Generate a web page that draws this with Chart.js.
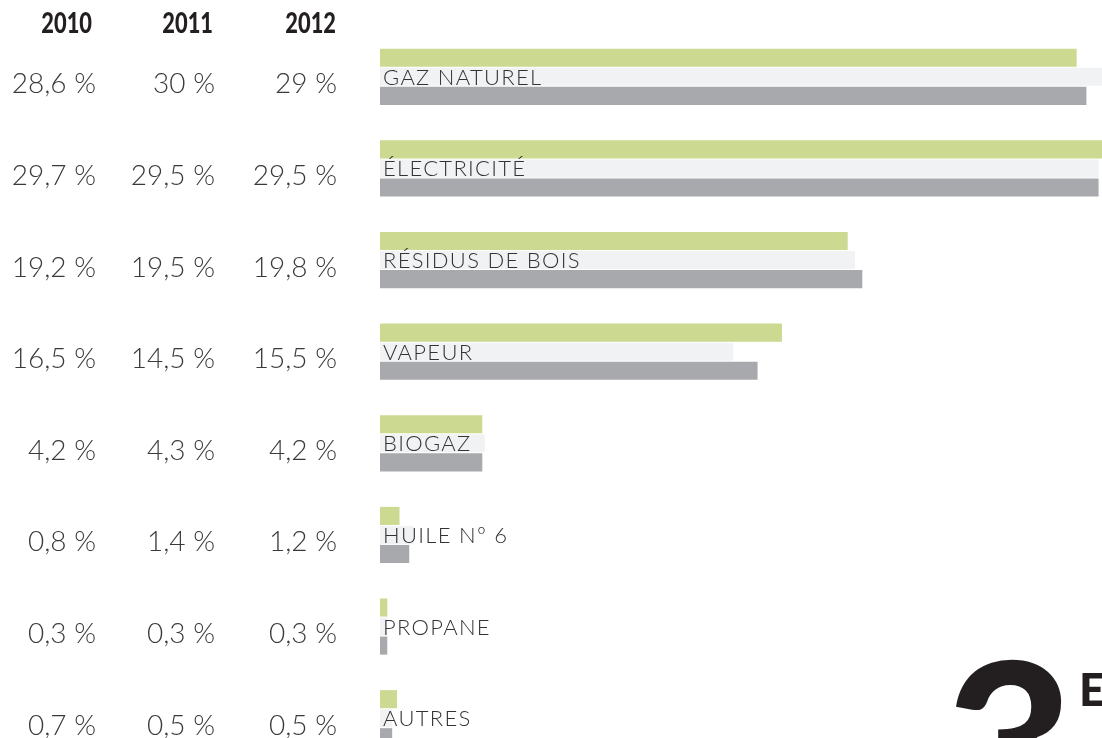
<!DOCTYPE html>
<html lang="fr">
<head>
    <meta charset="UTF-8">
    <title>Sources d'énergie 2010-2012</title>
    <script src="https://cdn.jsdelivr.net/npm/chart.js"></script>
    <style>
        html, body {
            margin: 0;
            padding: 0;
            background: #fff;
            overflow: hidden;
        }
        #energyChart {
            display: block;
        }
    </style>
</head>
<body>

    <canvas id="energyChart" width="1102" height="764"></canvas>

    <script>
        // --- Data ---
        const categories = ['GAZ NATUREL', 'ÉLECTRICITÉ', 'RÉSIDUS DE BOIS', 'VAPEUR', 'BIOGAZ', 'HUILE Nº 6', 'PROPANE', 'AUTRES'];
        const years = ['2010', '2011', '2012'];

        const values2010 = [28.6, 29.7, 19.2, 16.5, 4.2, 0.8, 0.3, 0.7];
        const values2011 = [30, 29.5, 19.5, 14.5, 4.3, 1.4, 0.3, 0.5];
        const values2012 = [29, 29.5, 19.8, 15.5, 4.2, 1.2, 0.3, 0.5];

        const yearColors = ['#cbd991', '#f1f2f4', '#a8a9ac'];

        const thinFont = '"Lato", "Open Sans", sans-serif';

        // french number format: 28,6 %
        const fmt = v => String(v).replace('.', ',') + ' %';

        // --- Plugin: the left table, the labels on the bars and the big "3E" ---
        const overlayPlugin = {
            id: 'overlay',
            afterDatasetsDraw(chart) {
                const ctx = chart.ctx;
                const yScale = chart.scales.y;
                const series = [values2010, values2011, values2012];
                const colRight = [96, 215, 337];
                const headRight = [92, 213, 336];

                ctx.save();

                // year headers (condensed by squeezing the bold face)
                ctx.fillStyle = '#231f20';
                ctx.font = '900 28px "Lato", "DejaVu Sans", sans-serif';
                ctx.textAlign = 'right';
                ctx.textBaseline = 'alphabetic';
                years.forEach((y, i) => {
                    ctx.save();
                    ctx.translate(headRight[i], 33);
                    ctx.scale(0.78, 1);
                    ctx.fillText(y, 0, 0);
                    ctx.restore();
                });

                // percentages
                ctx.fillStyle = '#3a3a3a';
                ctx.font = '300 28px ' + thinFont;
                categories.forEach((c, i) => {
                    const cy = yScale.getPixelForValue(i);
                    series.forEach((s, j) => ctx.fillText(fmt(s[i]), colRight[j], cy + 16.5));
                });

                // category labels over the bars
                ctx.textAlign = 'left';
                ctx.fillStyle = '#333';
                ctx.font = '300 22px ' + thinFont;
                ctx.letterSpacing = '1.3px';
                categories.forEach((c, i) => {
                    const cy = yScale.getPixelForValue(i);
                    ctx.fillText(c, chart.chartArea.left + 3, cy + 8);
                });
                ctx.letterSpacing = '0px';

                // big "3E" in the corner
                ctx.fillStyle = '#231f20';
                ctx.font = '900 222px "Lato", "DejaVu Sans", sans-serif';
                ctx.fillText('3', 945, 822);
                ctx.font = '900 46px "Lato", "DejaVu Sans", sans-serif';
                ctx.fillText('E', 1079, 706);

                ctx.restore();
            }
        };

        // --- Chart Configuration ---
        const config = {
            type: 'bar',
            data: {
                labels: categories,
                datasets: [
                    { label: years[0], data: values2010, backgroundColor: yearColors[0] },
                    { label: years[1], data: values2011, backgroundColor: yearColors[1] },
                    { label: years[2], data: values2012, backgroundColor: yearColors[2] }
                ]
            },
            options: {
                indexAxis: 'y',
                responsive: false,
                devicePixelRatio: 1,
                animation: false,
                layout: {
                    padding: { left: 380, top: 31, right: 0, bottom: 0 }
                },
                datasets: {
                    bar: {
                        categoryPercentage: 0.623,
                        barPercentage: 0.95,
                        borderWidth: 0
                    }
                },
                plugins: {
                    legend: { display: false },
                    tooltip: { enabled: false }
                },
                scales: {
                    x: { display: false, min: 0, max: 29.64 },
                    y: { display: false }
                }
            },
            plugins: [overlayPlugin]
        };

        // --- Render Chart ---
        const ctx = document.getElementById('energyChart').getContext('2d');
        new Chart(ctx, config);
    </script>

</body>
</html>
